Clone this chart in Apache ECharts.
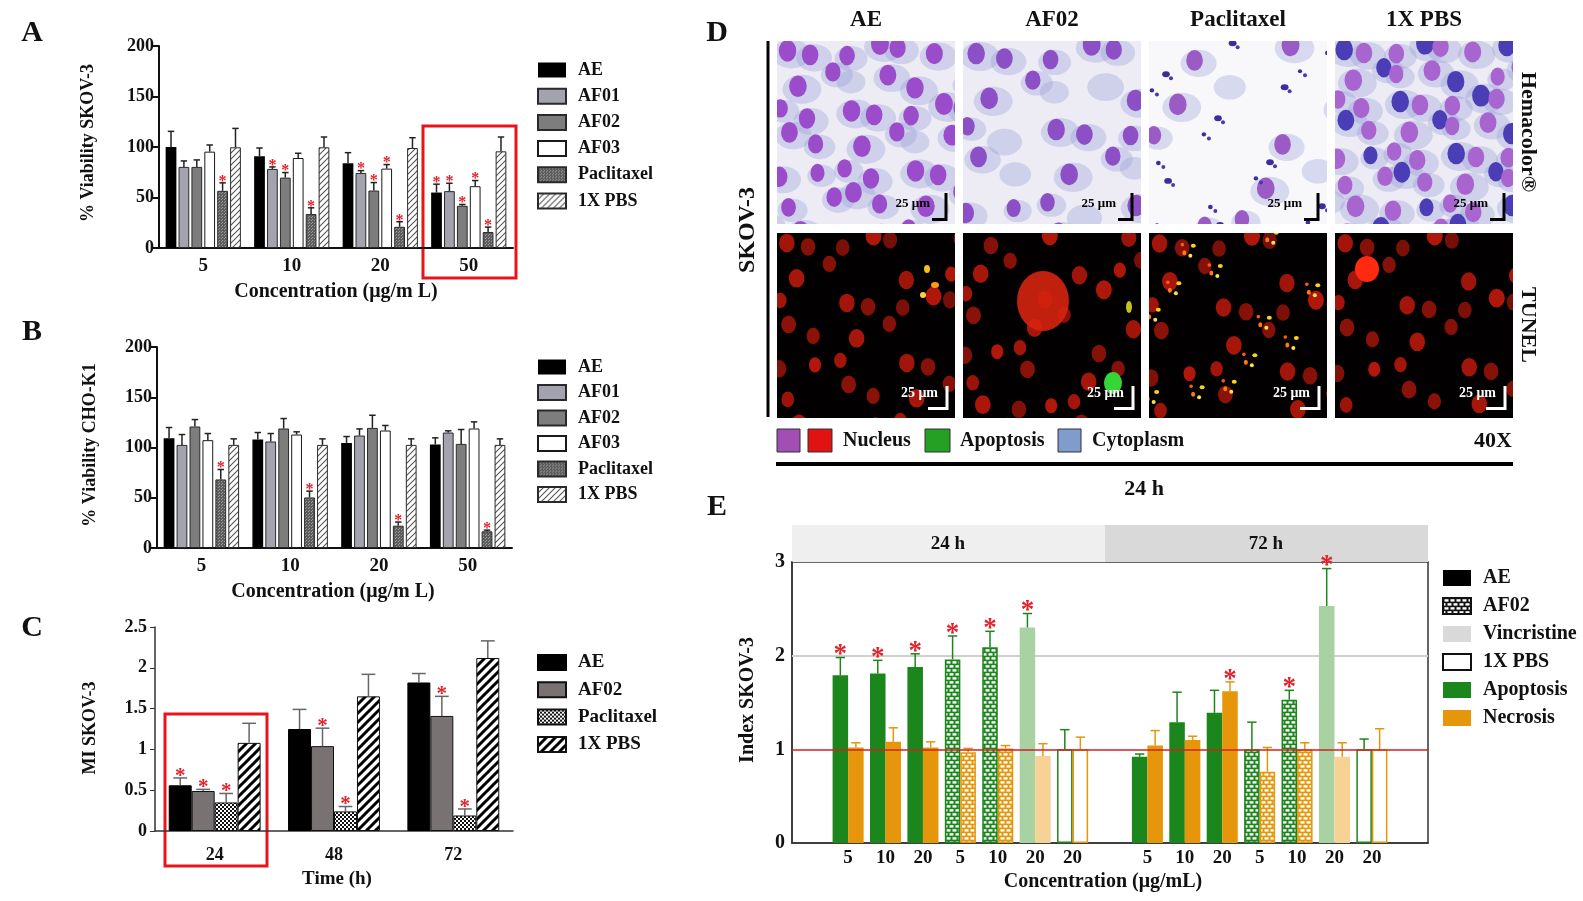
<!DOCTYPE html>
<html>
<head>
<meta charset="utf-8">
<script src="https://cdn.jsdelivr.net/npm/echarts@6/dist/echarts.min.js"></script>
<style>
  html, body { margin: 0; padding: 0; background: #fff; }
  #chart { width: 1583px; height: 901px; }
</style>
</head>
<body>
<div id="chart"></div>
<script>
var SERIF = '"Liberation Serif", "Times New Roman", serif'

// ---- data ----
var catsAB = ['5', '10', '20', '50']
var namesAB = ['AE', 'AF01', 'AF02', 'AF03', 'Paclitaxel', '1X PBS']

var skovMean = [
  [100, 90.8, 83.9, 54.9],
  [80.3, 78.3, 74.3, 56.3],
  [80.3, 69.7, 56.9, 41.8],
  [95.4, 89.1, 78.6, 61.2],
  [56.6, 33.6, 21.0, 15.8],
  [99.7, 99.7, 99.0, 95.7]
]
var skovSd = [
  [15.5, 8.2, 10.5, 8.3],
  [5.9, 2.0, 2.3, 7.8],
  [6.9, 5.0, 7.9, 1.3],
  [6.6, 4.7, 4.0, 5.6],
  [7.9, 6.2, 5.0, 4.9],
  [18.7, 10.2, 10.2, 14.2]
]
var skovStar = [
  [0, 0, 0, 1],
  [0, 1, 1, 1],
  [0, 1, 1, 1],
  [0, 0, 1, 1],
  [1, 1, 1, 1],
  [0, 0, 0, 0]
]

var choMean = [
  [109.3, 107.9, 104.6, 103.0],
  [102.6, 106.0, 111.9, 114.9],
  [120.9, 118.9, 119.5, 103.6],
  [107.3, 112.9, 116.9, 118.9],
  [68.2, 50.3, 22.2, 16.6],
  [102.6, 102.6, 102.6, 102.6]
]
var choSd = [
  [10.6, 7.0, 6.3, 6.6],
  [10.3, 7.9, 6.6, 1.7],
  [6.9, 9.9, 12.6, 14.3],
  [6.6, 2.7, 5.0, 6.6],
  [9.9, 6.3, 3.6, 1.2],
  [6.0, 6.0, 6.0, 6.0]
]
var choStar = [
  [0, 0, 0, 0],
  [0, 0, 0, 0],
  [0, 0, 0, 0],
  [0, 0, 0, 0],
  [1, 1, 1, 1],
  [0, 0, 0, 0]
]

var catsC = ['24', '48', '72']
var namesC = ['AE', 'AF02', 'Paclitaxel', '1X PBS']
var miMean = [
  [0.56, 1.25, 1.82],
  [0.49, 1.04, 1.41],
  [0.35, 0.24, 0.19],
  [1.08, 1.65, 2.12]
]
var miSd = [
  [0.09, 0.24, 0.11],
  [0.02, 0.22, 0.24],
  [0.11, 0.06, 0.08],
  [0.24, 0.27, 0.21]
]
var miStar = [
  [1, 0, 0],
  [1, 1, 1],
  [1, 1, 1],
  [0, 0, 0]
]

var catsE = ['', '5', '10', '20', '5', '10', '20', '20', '', '5', '10', '20', '5', '10', '20', '20', '']
var treatE = ['', 'AE', 'AE', 'AE', 'AF02', 'AF02', 'Vincristine', '1X PBS', '',
  'AE', 'AE', 'AE', 'AF02', 'AF02', 'Vincristine', '1X PBS', '']
var apopMean = [null, 1.79, 1.81, 1.88, 1.96, 2.09, 2.30, 1.00, null, 0.92, 1.29, 1.39, 1.00, 1.53, 2.53, 1.00, null]
var apopSd = [null, 0.19, 0.14, 0.14, 0.25, 0.17, 0.15, 0.21, null, 0.03, 0.32, 0.24, 0.29, 0.10, 0.40, 0.11, null]
var apopStar = [0, 1, 1, 1, 1, 1, 1, 0, 0, 0, 0, 0, 0, 1, 1, 0, 0]
var necroMean = [null, 1.02, 1.08, 1.02, 0.97, 1.01, 0.93, 1.00, null, 1.04, 1.10, 1.62, 0.76, 1.00, 0.92, 1.00, null]
var necroSd = [null, 0.05, 0.15, 0.06, 0.04, 0.03, 0.13, 0.13, null, 0.16, 0.04, 0.10, 0.26, 0.07, 0.15, 0.22, null]
var necroStar = [0, 0, 0, 0, 0, 0, 0, 0, 0, 0, 0, 1, 0, 0, 0, 0, 0]
var legendE = ['AE', 'AF02', 'Vincristine', '1X PBS', 'Apoptosis', 'Necrosis']
var columnsD = ['AE', 'AF02', 'Paclitaxel', '1X PBS']

// ---- fill patterns ----
function tile (w, h, draw) {
  var c = document.createElement('canvas')
  c.width = w
  c.height = h
  draw(c.getContext('2d'), w, h)
  return c
}
function pat (c) { return { image: c, repeat: 'repeat' } }
function diag (g, w, h) {
  g.beginPath()
  g.moveTo(-1, h + 1); g.lineTo(w + 1, -1)
  g.moveTo(-1, 1); g.lineTo(1, -1)
  g.moveTo(w - 1, h + 1); g.lineTo(w + 1, h - 1)
  g.stroke()
}
var hatchLight = pat(tile(6, 6, function (g, w, h) {
  g.fillStyle = '#fff'; g.fillRect(0, 0, w, h)
  g.strokeStyle = '#555'; g.lineWidth = 1.1; diag(g, w, h)
}))
var hatchBold = pat(tile(9, 9, function (g, w, h) {
  g.fillStyle = '#fff'; g.fillRect(0, 0, w, h)
  g.strokeStyle = '#000'; g.lineWidth = 3; diag(g, w, h)
}))
var dots = pat(tile(3, 3, function (g, w, h) {
  g.fillStyle = '#5c5c5c'; g.fillRect(0, 0, w, h)
  g.fillStyle = '#9c9c9c'; g.fillRect(0, 0, 1, 1); g.fillRect(2, 1, 1, 1)
}))
var checker = pat(tile(4, 4, function (g, w, h) {
  g.fillStyle = '#fff'; g.fillRect(0, 0, w, h)
  g.fillStyle = '#111'; g.fillRect(0, 0, 2, 2); g.fillRect(2, 2, 2, 2)
}))
function brick (col) {
  return pat(tile(12, 8, function (g, w, h) {
    g.fillStyle = col; g.fillRect(0, 0, w, h)
    g.fillStyle = '#fff'
    g.fillRect(1.5, 1.2, 4, 2.4); g.fillRect(7.5, 1.2, 4, 2.4)
    g.fillRect(4.5, 5.2, 4, 2.4); g.fillRect(10.5, 5.2, 1.5, 2.4); g.fillRect(0, 5.2, 2.5, 2.4)
  }))
}

var GREEN = '#1b861b'
var GREEN_L = '#a9d2a2'
var ORANGE = '#e5960b'
var ORANGE_L = '#f6d294'

var stylesAB = [
  { color: '#000' },
  { color: '#a3a3ad', borderColor: '#2a2a2a', borderWidth: 1 },
  { color: '#7d7d7d', borderColor: '#2a2a2a', borderWidth: 1 },
  { color: '#fff', borderColor: '#1a1a1a', borderWidth: 1 },
  { color: dots, borderColor: '#2a2a2a', borderWidth: 1 },
  { color: hatchLight, borderColor: '#2a2a2a', borderWidth: 1 }
]
var stylesC = [
  { color: '#000', borderColor: '#000', borderWidth: 1 },
  { color: '#787272', borderColor: '#111', borderWidth: 1 },
  { color: checker, borderColor: '#111', borderWidth: 1 },
  { color: hatchBold, borderColor: '#111', borderWidth: 1 }
]
var stylesLegendE = [
  { color: '#000' },
  { color: brick('#111'), borderColor: '#111', borderWidth: 1 },
  { color: '#d9d9d9' },
  { color: '#fff', borderColor: '#111', borderWidth: 1.5 },
  { color: GREEN },
  { color: ORANGE }
]

function eItem (treat, base, light) {
  if (treat === 'AE') return { color: base }
  if (treat === 'AF02') return { color: brick(base), borderColor: base, borderWidth: 1.5 }
  if (treat === 'Vincristine') return { color: light }
  return { color: '#fff', borderColor: base, borderWidth: 1.5 }
}

// ---- error bars + asterisks, placed with the same band maths as the bars ----
function errRender (n, i, gap, bgap, color, starSize, lw) {
  return function (params, api) {
    var cat = api.value(0)
    var m = api.value(1)
    var sd = api.value(2)
    var st = api.value(3)
    var p0 = api.coord([cat, m])
    var p1 = api.coord([cat, m + sd])
    var band = api.size([1, 0])[0]
    var total = band * (1 - gap)
    var w = total / (n + (n - 1) * bgap)
    var x = p0[0] - total / 2 + i * w * (1 + bgap) + w / 2
    var cap = Math.max(3, w * 0.3)
    var kids = [
      { type: 'line', shape: { x1: x, y1: p0[1], x2: x, y2: p1[1] }, style: { stroke: color, lineWidth: lw } },
      { type: 'line', shape: { x1: x - cap, y1: p1[1], x2: x + cap, y2: p1[1] }, style: { stroke: color, lineWidth: lw } }
    ]
    if (st) {
      kids.push({
        type: 'text', x: x, y: p1[1] + starSize * 0.42,
        style: {
          text: '*', fill: '#e3222b', font: 'bold ' + starSize + 'px ' + SERIF,
          textAlign: 'center', textVerticalAlign: 'bottom', verticalAlign: 'bottom'
        }
      })
    }
    return { type: 'group', children: kids }
  }
}

var series = []
function addBars (prefix, names, means, sds, stars, cats, styles, axis, gap, bgap, errColor, starSize) {
  names.forEach(function (nm, i) {
    series.push({
      type: 'bar', name: prefix + nm, xAxisIndex: axis, yAxisIndex: axis,
      data: means[i], itemStyle: styles[i],
      barGap: (bgap * 100) + '%', barCategoryGap: (gap * 100) + '%'
    })
    series.push({
      type: 'custom', name: prefix + nm + ' sd', xAxisIndex: axis, yAxisIndex: axis,
      z: 4, silent: true,
      renderItem: errRender(names.length, i, gap, bgap, errColor, starSize, 1.5),
      data: cats.map(function (c, j) { return [j, means[i][j], sds[i][j], stars[i][j]] })
    })
  })
}
addBars('', namesAB, skovMean, skovSd, skovStar, catsAB, stylesAB, 0, 0.15, 0.2, '#222', 16)
addBars('B:', namesAB, choMean, choSd, choStar, catsAB, stylesAB, 1, 0.15, 0.2, '#222', 16)
addBars('C:', namesC, miMean, miSd, miStar, catsC, stylesC, 2, 0.23, 0, '#666', 21)

function eSeries (name, means, sds, stars, base, light, idx, mark) {
  series.push({
    type: 'bar', name: name, xAxisIndex: 3, yAxisIndex: 3,
    barGap: '0%', barCategoryGap: '17%',
    data: means.map(function (v, j) {
      return v === null ? '-' : { value: v, itemStyle: eItem(treatE[j], base, light) }
    }),
    markLine: mark
  })
  var pts = []
  means.forEach(function (v, j) {
    if (v !== null) pts.push([j, v, sds[j], stars[j]])
  })
  series.push({
    type: 'custom', name: name + ' sd', xAxisIndex: 3, yAxisIndex: 3, z: 4, silent: true,
    renderItem: errRender(2, idx, 0.17, 0, base, 27, 1.5),
    data: pts
  })
}
eSeries('Apoptosis', apopMean, apopSd, apopStar, GREEN, GREEN_L, 0, {
  silent: true, symbol: 'none', z: 1, label: { show: false },
  lineStyle: { color: '#cfcfcf', width: 2, type: 'solid' }, data: [{ yAxis: 2 }]
})
eSeries('Necrosis', necroMean, necroSd, necroStar, ORANGE, ORANGE_L, 1, {
  silent: true, symbol: 'none', z: 5, label: { show: false },
  lineStyle: { color: '#d42020', width: 1.5, type: 'solid' }, data: [{ yAxis: 1 }]
})
// legend keys of panel E live on a hidden grid so they do not take bar slots
legendE.forEach(function (nm, i) {
  series.push({ type: 'bar', name: 'E:' + nm, xAxisIndex: 4, yAxisIndex: 4, data: [], itemStyle: stylesLegendE[i] })
})

function mkLegend (names, prefix, left, top, ih, gap, fs) {
  return {
    data: names.map(function (n) { return prefix + n }),
    left: left, top: top, orient: 'vertical', icon: 'rect',
    itemWidth: 28, itemHeight: ih, itemGap: gap, selectedMode: false,
    formatter: function (n) { return '{t|' + n.replace(/^[BCE]:/, '') + '}' },
    textStyle: { rich: { t: { fontFamily: SERIF, fontWeight: 'bold', fontSize: fs, color: '#111', padding: [0, 0, 0, 7] } } }
  }
}

function lbl (size, margin) {
  return { interval: 0, margin: margin, fontSize: size, fontWeight: 'bold', fontFamily: SERIF, color: '#111' }
}
function abX (grid) {
  return {
    gridIndex: grid, type: 'category', data: catsAB,
    axisLine: { lineStyle: { color: '#111', width: 2 } },
    axisTick: { alignWithLabel: true, length: 6, lineStyle: { width: 2 } },
    axisLabel: lbl(19, 9)
  }
}
function abY (grid) {
  return {
    gridIndex: grid, type: 'value', min: 0, max: 200, interval: 50,
    axisLine: { show: true, lineStyle: { color: '#111', width: 2 } },
    axisTick: { show: true, length: 6, lineStyle: { width: 2 } },
    splitLine: { show: false }, axisLabel: lbl(18, 5)
  }
}

// ---- graphic: titles, frames, panel D ----
var gfx = []
function txt (x, y, s, size, o) {
  o = o || {}
  gfx.push({
    type: 'text', x: x, y: y, rotation: o.rot || 0, silent: true, z: 10,
    style: {
      text: s, fill: o.fill || '#111', font: 'bold ' + size + 'px ' + SERIF,
      textAlign: o.align || 'center', textVerticalAlign: 'middle', verticalAlign: 'middle'
    }
  })
}
function box (x, y, w, h, fill, stroke, lw) {
  gfx.push({
    type: 'rect', silent: true, shape: { x: x, y: y, width: w, height: h },
    style: { fill: fill || 'none', stroke: stroke || null, lineWidth: lw || 0 }
  })
}
function seg (x1, y1, x2, y2, col, lw) {
  gfx.push({ type: 'line', silent: true, z: 10, shape: { x1: x1, y1: y1, x2: x2, y2: y2 }, style: { stroke: col, lineWidth: lw } })
}
var R90 = Math.PI / 2

txt(32, 33, 'A', 30); txt(32, 332, 'B', 30); txt(32, 628, 'C', 30)
txt(717, 33, 'D', 30); txt(717, 507, 'E', 30)
txt(88, 143, '% Viability SKOV-3', 18, { rot: R90 })
txt(336, 292, 'Concentration (μg/m L)', 20)
txt(90, 445, '% Viability CHO-K1', 18, { rot: R90 })
txt(333, 592, 'Concentration (μg/m L)', 20)
txt(90, 728, 'MI SKOV-3', 18, { rot: R90 })
txt(337, 879, 'Time (h)', 19)
txt(748, 700, 'Index SKOV-3', 20, { rot: R90 })
txt(1103, 882, 'Concentration (μg/mL)', 20)
box(423, 126, 93, 152, 'none', '#e8141b', 3)
box(165, 714, 102, 152, 'none', '#e8141b', 3)
box(792, 525, 313, 37, '#efefef')
box(1105, 525, 323, 37, '#d9d9d9')
txt(948, 544, '24 h', 19)
txt(1266, 544, '72 h', 19)

// microscopy tiles (decorative raster)
var J = [0.31, -0.42, 0.12, 0.47, -0.2, -0.05, 0.38, -0.33, 0.22, -0.48, 0.05, 0.41,
  -0.27, 0.16, -0.12, 0.35, -0.38, 0.27, -0.16, 0.44, -0.09, 0.2, -0.45, 0.1]
function jv (k) { return J[k % 24] }
function lattice (w, h, sx, sy, keep, fn) {
  for (var r = 0; r * sy < h + sy; r++) {
    for (var c = 0; c * sx < w + sx; c++) {
      var k = r * 5 + c * 7 + 3
      if (jv(k + 11) < keep) continue
      fn((c + (r % 2) * 0.5) * sx + jv(k) * sx * 0.7, (r + 0.3) * sy + jv(k + 7) * sy * 0.6, jv(k + 3), k)
    }
  }
}
function ell (g, x, y, rx, ry, col) {
  g.beginPath(); g.ellipse(x, y, Math.max(1, rx), Math.max(1, ry), 0, 0, Math.PI * 2)
  g.fillStyle = col; g.fill()
}
function hemaTile (kind, w, h) {
  return tile(w, h, function (g) {
    g.fillStyle = kind === 2 ? '#f8f7fa' : '#edebf4'; g.fillRect(0, 0, w, h)
    var sx = [32, 40, 44, 28][kind]
    var keep = [-0.45, -0.2, 0.15, -0.5][kind]
    lattice(w, h, sx, sx - 2, kind === 2 ? 0.1 : -1, function (x, y, j) {
      ell(g, x + 4, y + 3, 17 + 6 * j, 13 + 4 * j, 'rgba(140,150,212,0.3)')
    })
    lattice(w, h, sx, sx - 2, keep, function (x, y, j, k) {
      var col = kind === 3 && k % 3 === 0 ? '#4a3db6' : ['#9b4ccb', '#8d4fc6', '#9a5bc4', '#a864cf'][kind]
      ell(g, x, y, 8 + 2 * j, 10 + 2 * j, col)
    })
    if (kind === 2) {
      lattice(w, h, 26, 22, 0.3, function (x, y, j) {
        ell(g, x, y, 3 + 2 * j, 2.5 + j, '#3c2c9c'); ell(g, x + 5, y + 4, 2, 2, '#4b3aa8')
      })
    }
  })
}
function tunelTile (kind, w, h) {
  return tile(w, h, function (g) {
    g.fillStyle = '#020000'; g.fillRect(0, 0, w, h)
    var sx = [30, 27, 32, 31][kind]
    lattice(w, h, sx, sx, [-0.3, -0.1, -0.2, -0.3][kind], function (x, y, j) {
      ell(g, x, y, 7 + 2 * j, 8.5 + 2 * j, 'rgba(200,26,12,' + (0.55 + 0.7 * Math.abs(j)) + ')')
    })
    if (kind === 0) {
      ell(g, 150, 36, 3, 4, '#f2c31a'); ell(g, 158, 52, 4, 3, '#ff9a1a'); ell(g, 146, 62, 3, 3, '#ffd23a')
    } else if (kind === 1) {
      ell(g, 80, 68, 26, 30, 'rgba(215,36,16,0.9)')
      ell(g, 150, 150, 9, 11, '#37d637'); ell(g, 166, 74, 3, 6, '#c8c020')
    } else if (kind === 2) {
      lattice(w, h, 38, 36, 0.05, function (x, y) {
        ell(g, x + 5, y - 4, 2.5, 2, '#ffd21a'); ell(g, x - 4, y + 3, 2, 2.5, '#ff7a10')
        ell(g, x + 2, y + 6, 2, 2, '#ffe24a'); ell(g, x - 6, y - 5, 1.8, 1.8, '#ff5a10')
      })
    } else {
      ell(g, 32, 36, 12, 13, '#ff2a10')
    }
  })
}

var tileX = [777, 963, 1149, 1335]
var tileW = 178
var rowY = [41, 233]
var rowH = [183, 185]
columnsD.forEach(function (nm, i) {
  var x = tileX[i]
  txt(x + tileW / 2, 20, nm, 23)
  gfx.push({ type: 'image', silent: true, style: { image: hemaTile(i, tileW, rowH[0]), x: x, y: rowY[0], width: tileW, height: rowH[0] } })
  gfx.push({ type: 'image', silent: true, style: { image: tunelTile(i, tileW, rowH[1]), x: x, y: rowY[1], width: tileW, height: rowH[1] } })
  var r = x + tileW
  var b0 = rowY[0] + rowH[0]
  txt(r - 25, b0 - 20, '25 μm', 13, { align: 'right', fill: '#000' })
  seg(r - 9, b0 - 31, r - 9, b0 - 3, '#000', 3)
  seg(r - 23, b0 - 4.5, r - 9, b0 - 4.5, '#000', 3)
  var b1 = rowY[1] + rowH[1]
  txt(r - 17, b1 - 25, '25 μm', 14, { align: 'right', fill: '#fff' })
  seg(r - 8, b1 - 32, r - 8, b1 - 8, '#fff', 3)
  seg(r - 27, b1 - 9.5, r - 8, b1 - 9.5, '#fff', 3)
})
box(766.5, 41, 3, 376, '#000')
txt(748, 230, 'SKOV-3', 24, { rot: R90 })
txt(1528, 132, 'Hemacolor®', 22, { rot: -R90 })
txt(1528, 325, 'TUNEL', 22, { rot: -R90 })
box(777, 429, 23, 23, '#a24fb4', '#333', 1)
box(808, 429, 24, 23, '#e01212', '#333', 1)
txt(843, 441, 'Nucleus', 20, { align: 'left' })
box(925, 429, 25, 23, '#25a025', '#333', 1)
txt(960, 441, 'Apoptosis', 20, { align: 'left' })
box(1058, 429, 23, 23, '#7f9ccc', '#333', 1)
txt(1092, 441, 'Cytoplasm', 20, { align: 'left' })
txt(1512, 441, '40X', 22, { align: 'right' })
box(776, 462, 737, 4, '#000')
txt(1144, 489, '24 h', 22)

var chart = echarts.init(document.getElementById('chart'))
chart.setOption({
  animation: false,
  backgroundColor: '#fff',
  textStyle: { fontFamily: SERIF },
  grid: [
    { left: 159, top: 46, width: 354, height: 202 },
    { left: 157, top: 347, width: 355, height: 201 },
    { left: 155, top: 627, width: 358, height: 204 },
    { left: 792, top: 562, width: 636, height: 281, show: true, borderColor: '#333', borderWidth: 1.5 },
    { left: 0, top: 0, width: 2, height: 2, show: false }
  ],
  xAxis: [
    abX(0),
    abX(1),
    {
      gridIndex: 2, type: 'category', data: catsC,
      axisLine: { lineStyle: { color: '#333', width: 1.5 } },
      axisTick: { show: false }, axisLabel: lbl(18, 15)
    },
    {
      gridIndex: 3, type: 'category', data: catsE,
      axisLine: { lineStyle: { color: '#333', width: 1.5 } },
      axisTick: { show: false }, axisLabel: lbl(19, 6)
    },
    { gridIndex: 4, type: 'category', data: ['k'], show: false }
  ],
  yAxis: [
    abY(0),
    abY(1),
    {
      gridIndex: 2, type: 'value', min: 0, max: 2.5, interval: 0.5,
      axisLine: { show: true, lineStyle: { color: '#333', width: 1.5 } },
      axisTick: { show: true, length: 5 }, splitLine: { show: false }, axisLabel: lbl(18, 8)
    },
    {
      gridIndex: 3, type: 'value', min: 0, max: 3, interval: 1,
      axisLine: { show: true, lineStyle: { color: '#333', width: 1.5 } },
      axisTick: { show: false }, splitLine: { show: false }, axisLabel: lbl(20, 7)
    },
    { gridIndex: 4, type: 'value', show: false }
  ],
  legend: [
    mkLegend(namesAB, '', 532, 56, 15, 8.2, 18),
    mkLegend(namesAB, 'B:', 532, 353, 15, 7.5, 18),
    mkLegend(namesC, 'C:', 532, 648, 15, 8.3, 19),
    mkLegend(legendE, 'E:', 1437, 563, 16, 8, 20)
  ],
  series: series,
  graphic: { elements: gfx }
})
</script>
</body>
</html>
